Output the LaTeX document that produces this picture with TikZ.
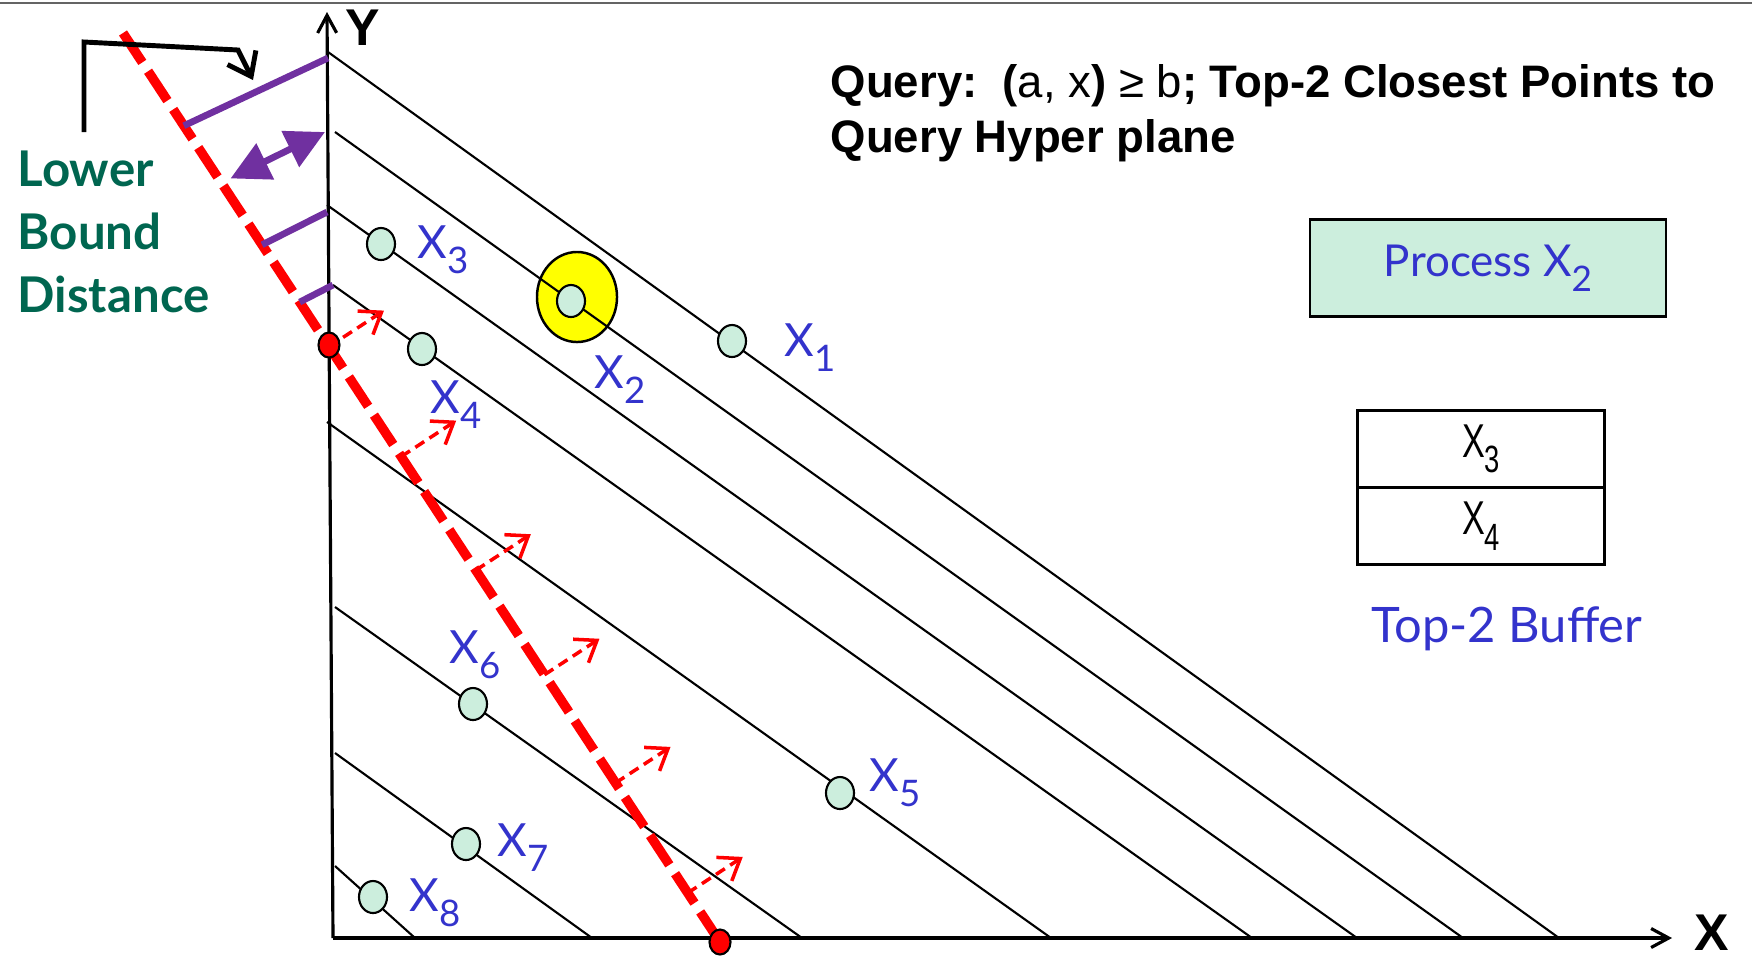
\documentclass[tikz,border=0pt]{standalone}
\usepackage{fontspec}
\setmainfont{Liberation Sans}
\newfontfamily\labfont{Lato}
\newfontfamily\narrowfont[FakeStretch=0.72]{Liberation Sans}
\usepackage{graphicx}
\usepackage{tikz}
\usetikzlibrary{shapes.geometric,arrows.meta,positioning,calc}

\newcommand{\xsubs}[1]{X\raisebox{-0.33em}{\scalebox{0.8}{#1}}}

\begin{document}
\begin{tikzpicture}[
  x=0.01cm, y=-0.01cm,
  node distance=0.2cm,
  pPoint/.style={ellipse, minimum width=0.28cm, minimum height=0.32cm,
    inner sep=0pt,
    fill={rgb,255:red,204;green,238;blue,221},
    draw=black, line width=0.6pt},
  pHit/.style={ellipse, minimum width=0.8cm, minimum height=0.9cm,
    inner sep=0pt,
    fill={rgb,255:red,255;green,255;blue,0},
    draw=black, line width=0.7pt},
  pDot/.style={ellipse, minimum width=0.21cm, minimum height=0.25cm,
    inner sep=0pt,
    fill={rgb,255:red,255;green,0;blue,0},
    draw=black, line width=0.6pt},
  pLab/.style={anchor=base west, inner sep=0pt,
    text={rgb,255:red,51;green,51;blue,204},
    font=\labfont\fontsize{13}{15}\selectfont},
  pAxLab/.style={inner sep=0pt,
    font=\fontsize{14.7}{16}\selectfont\bfseries},
  pQuery/.style={anchor=base west, inner sep=0pt,
    font=\fontsize{12.95}{15.6}\selectfont\bfseries},
  pBoundLab/.style={anchor=north west, inner sep=0pt, align=left,
    text={rgb,255:red,0;green,102;blue,80},
    font=\labfont\bfseries\fontsize{14}{17.9}\selectfont},
  pBox/.style={rectangle, minimum width=3.56cm, minimum height=0.97cm,
    inner sep=0pt,
    fill={rgb,255:red,204;green,238;blue,221},
    draw=black, line width=0.7pt,
    text={rgb,255:red,51;green,51;blue,204},
    font=\labfont\fontsize{12.5}{15}\selectfont},
  pBuf/.style={rectangle, minimum width=2.46cm, minimum height=0.77cm,
    inner sep=0pt, outer sep=0pt,
    draw=black, line width=0.85pt,
    font=\narrowfont\fontsize{13.5}{15}\selectfont},
  pBufLab/.style={anchor=base, inner sep=0pt,
    text={rgb,255:red,51;green,51;blue,204},
    font=\labfont\fontsize{13.9}{16}\selectfont},
  pHyp/.style={draw=black, line width=0.6pt},
  pAxis/.style={draw=black, line width=0.9pt,
    -{Straight Barb[length=5pt,width=5.4pt]}},
  pBound/.style={draw={rgb,255:red,255;green,0;blue,0},
    line width=2.7pt, dash pattern=on 10pt off 3pt},
  pNorm/.style={draw={rgb,255:red,255;green,0;blue,0},
    line width=1pt, dash pattern=on 3pt off 1.8pt,
    -{Straight Barb[length=5.5pt,width=8pt]}},
  pLB/.style={draw={rgb,255:red,112;green,48;blue,160}, line width=1.9pt},
  pLBarr/.style={pLB, fill={rgb,255:red,112;green,48;blue,160},
    {Triangle[length=11pt,width=11pt]}-{Triangle[length=11pt,width=11pt]}},
  pBent/.style={draw=black, line width=1.4pt,
    -{Straight Barb[length=6pt,width=9pt]}},
]

  \useasboundingbox (0,0) rectangle (1752,960);
  \draw[draw={rgb,255:red,100;green,100;blue,100}, line width=0.7pt]
    (0,3) -- (1752,3);

  %% ── Highlighted point (behind its hyperplane) ───────────────
  \node[pHit] (hit) at (577,297) {};

  %% ── Hyperplanes ─────────────────────────────────────────────
  \foreach \xa/\ya/\xb [count=\i] in {328/52/1559, 335/132/1463,
      327/205/1357, 333/285/1252, 327/422/1051, 335/607/802,
      335/753/592, 335/866/415}
    \draw[pHyp] (\xa,\ya) coordinate (h\i s) -- (\xb,938) coordinate (h\i e);

  %% ── Axes ────────────────────────────────────────────────────
  \coordinate (orig) at (333,938);
  \draw[pAxis] (orig) -- (327,12);
  \draw[pAxis] (orig) -- (1672,938);
  \node[pAxLab] (ylab) at (363,28) {Y};
  \node[pAxLab] (xlab) at (1712,933) {X};

  %% ── Lower bound line ────────────────────────────────────────
  \coordinate (qTop) at (123,33);
  \coordinate (qBot) at (720,942);
  \draw[pBound] (qTop) -- (qBot);

  %% ── Lower bound distances ───────────────────────────────────
  \draw[pLB] ($(qTop)!0.102!(qBot)$) -- ([yshift=-0.06cm]h1s);
  \draw[pLBarr] ($(qTop)!0.16!(qBot)+(12,0)$) -- ([xshift=-0.1cm]h2s);
  \draw[pLB] ($(qTop)!0.233!(qBot)$) -- ([yshift=-0.07cm]h3s);
  \draw[pLB] ($(qTop)!0.296!(qBot)$) -- (h4s);

  \foreach \t [count=\i] in {0.345,0.466,0.591,0.706,0.825,0.946}
    \draw[pNorm] ($(qTop)!\t!(qBot)$) coordinate (n\i) -- ++(55,-36);

  %% ── Lower bound label ───────────────────────────────────────
  \node[pBoundLab] (lbd) at (17,150) {Lower\\Bound\\Distance};
  \coordinate (bTail) at (84,132);
  \coordinate (bTip) at (253,80);
  \draw[pBent] (bTail) -- (84,42) -- (238,50) -- (bTip);

  %% ── Data points ─────────────────────────────────────────────
  \foreach \n/\x/\y in {1/732/341, 2/571/301, 3/381/244, 4/422/349,
      5/840/793, 6/473/704, 7/466/844, 8/373/897}
    \node[pPoint] (pt\n) at (\x,\y) {};
  \foreach \n/\x/\y in {1/784/356, 2/594/388, 3/417/258, 4/430/413,
      5/869/791, 6/449/663, 7/497/856, 8/409/911}
    \node[pLab] (lab\n) at (\x,\y) {\xsubs{\n}};

  \node[pDot] (dotY) at (329,345) {};
  \node[pDot] (dotX) at (720,942) {};

  %% ── Query text ──────────────────────────────────────────────
  \node[pQuery] (qry1) at (830,97) {Query:\ \ (\mdseries a, x\bfseries)
    \mdseries{}≥ b\bfseries; Top-2 Closest Points to};
  \node[pQuery] (qry2) at (830,152) {Query Hyper plane};

  %% ── Processing and buffer ───────────────────────────────────
  \node[pBox] (proc) at (1488,268) {\raisebox{3.4pt}{Process \xsubs{2}}};
  \node[pBuf] (buf3) at (1481,449) {\xsubs{3}};
  \node[pBuf, below=0pt of buf3] (buf4) {\xsubs{4}};
  \node[pBufLab] (bufLab) at (1507,642) {Top-2 Buffer};

\end{tikzpicture}
\end{document}
